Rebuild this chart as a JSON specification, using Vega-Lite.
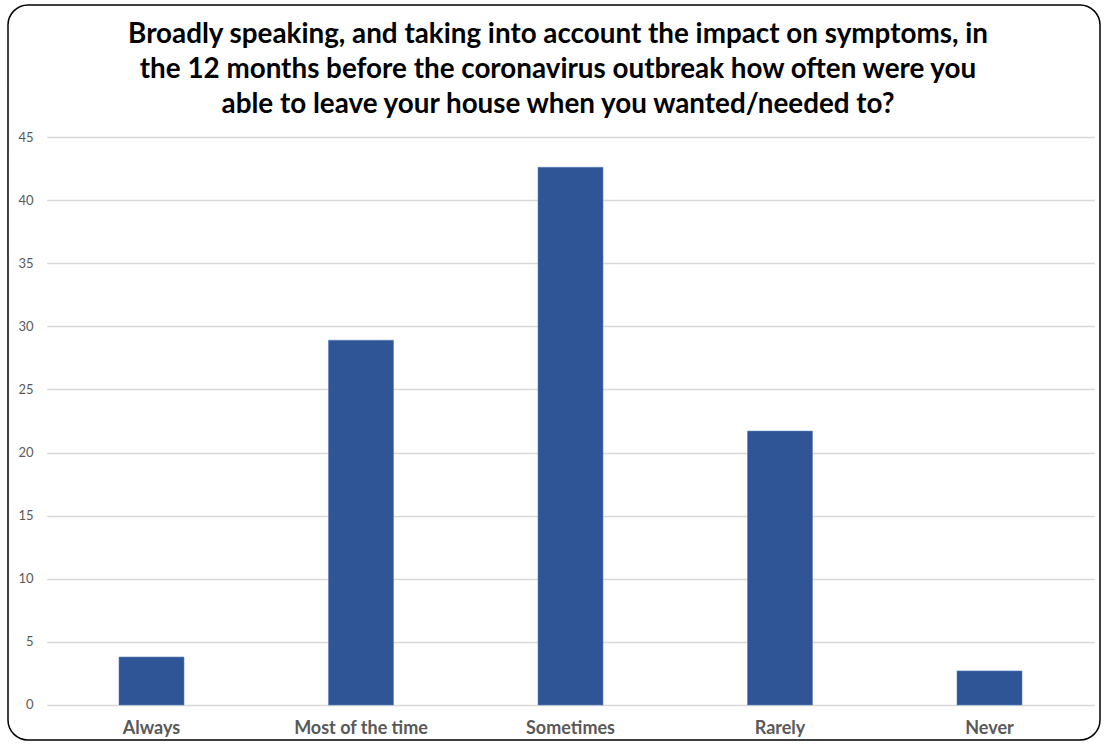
{
  "$schema": "https://vega.github.io/schema/vega-lite/v6.json",
  "width": 1092,
  "height": 735,
  "autosize": {"type": "none"},
  "padding": {"left": 8, "top": 5, "right": 5, "bottom": 4},
  "background": "white",
  "title": {
    "text": [
      "Broadly speaking, and taking into account the impact on symptoms, in",
      "the 12 months before the coronavirus outbreak how often were you",
      "able to leave your house when you wanted/needed to?"
    ],
    "orient": "top",
    "anchor": "middle",
    "frame": "group",
    "offset": -114,
    "dx": 4,
    "font": "Lato",
    "fontSize": 27.8,
    "fontWeight": "bold",
    "lineHeight": 35,
    "color": "#000000"
  },
  "data": {
    "values": [
      {"answer": "Always", "percent": 3.8},
      {"answer": "Most of the time", "percent": 28.9},
      {"answer": "Sometimes", "percent": 42.6},
      {"answer": "Rarely", "percent": 21.7},
      {"answer": "Never", "percent": 2.7}
    ]
  },
  "mark": {"type": "bar", "size": 65, "color": "#2f5597", "stroke": "#5b7fbd", "strokeWidth": 0.6},
  "encoding": {
    "x": {
      "field": "answer",
      "type": "nominal",
      "sort": null,
      "scale": {"range": [38.75, 1086.25], "paddingInner": 0, "paddingOuter": 0},
      "axis": {
        "title": null,
        "orient": "bottom",
        "offset": -35,
        "ticks": false,
        "domain": false,
        "labelAngle": 0,
        "labelPadding": 14,
        "labelFont": "Lato",
        "labelFontSize": 18,
        "labelFontWeight": "bold",
        "labelColor": "#595959"
      }
    },
    "y": {
      "field": "percent",
      "type": "quantitative",
      "scale": {"domain": [-2.773, 55.458], "nice": false, "zero": false},
      "axis": {
        "title": null,
        "values": [0, 5, 10, 15, 20, 25, 30, 35, 40, 45],
        "offset": -28,
        "ticks": false,
        "domain": false,
        "labelPadding": 3,
        "labelFont": "Lato",
        "labelFontSize": 13,
        "labelColor": "#595959",
        "grid": true,
        "gridColor": "#d9d9d9",
        "gridWidth": 1.5
      }
    }
  },
  "config": {
    "view": {"stroke": "#000000", "strokeWidth": 1.5, "cornerRadius": 20, "fill": "white"}
  }
}
